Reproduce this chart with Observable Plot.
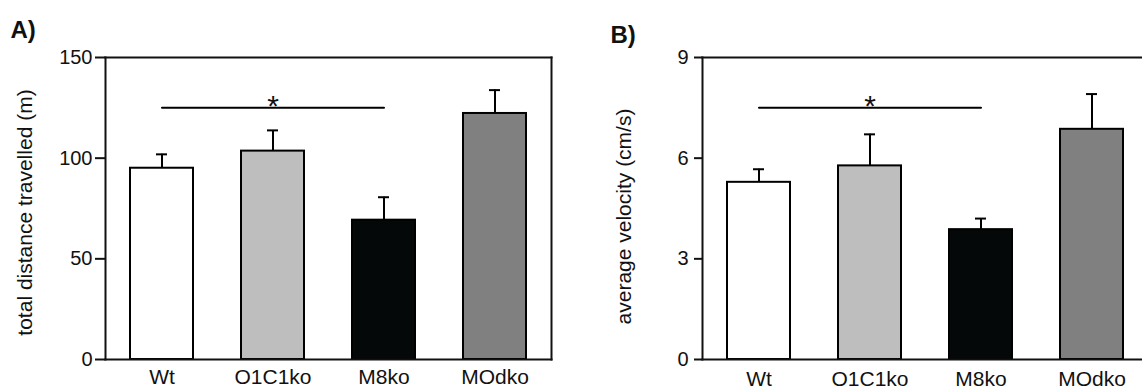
<!DOCTYPE html>
<html>
<head>
<meta charset="utf-8">
<script src="https://cdn.jsdelivr.net/npm/d3@7"></script>
<script src="https://cdn.jsdelivr.net/npm/@observablehq/plot@0.6"></script>
<style>
  html, body { margin: 0; padding: 0; background: #fff; }
  #wrap { width: 1142px; height: 390px; overflow: hidden; display: flex; background: #fff; }
  #wrap svg { flex: none; display: block; }
</style>
</head>
<body>
<div id="wrap"></div>
<script>
// ---- data ----
const categories = ["Wt", "O1C1ko", "M8ko", "MOdko"];
const barColors = ["#ffffff", "#bebebe", "#050808", "#7f807f"];

const distanceMean = [95.0, 103.5, 69.2, 122.2];
const distanceUpper = [101.9, 113.8, 80.6, 133.8];
const distanceTicks = [0, 50, 100, 150];
const distanceTitle = "total distance travelled (m)";

const velocityMean = [5.28, 5.77, 3.87, 6.86];
const velocityUpper = [5.67, 6.71, 4.20, 7.91];
const velocityTicks = [0, 3, 6, 9];
const velocityTitle = "average velocity (cm/s)";

const sigPair = ["Wt", "M8ko"];
const sigStarAt = "O1C1ko";
const distanceSig = 125;
const velocitySig = 7.5;

const panelLetters = ["A)", "B)"];

function panel(opts) {
  const data = categories.map((c, i) => ({cat: c, v: opts.mean[i], e: opts.upper[i], color: barColors[i]}));
  const sigData = sigPair.map(c => ({cat: c, y: opts.sig}));
  const frames = [
    Plot.frame({anchor: "left", strokeWidth: 2}),
    Plot.frame({anchor: "top", strokeWidth: 2}),
    Plot.frame({anchor: "bottom", strokeWidth: 2})
  ];
  if (opts.rightFrame) frames.push(Plot.frame({anchor: "right", strokeWidth: 2}));
  return Plot.plot({
    width: opts.width,
    height: 390,
    marginLeft: opts.marginLeft,
    marginRight: opts.marginRight,
    marginTop: 57,
    marginBottom: 31,
    style: {fontFamily: "'Liberation Sans', Arial, sans-serif", background: "#fff", color: "#111"},
    x: {domain: categories, paddingInner: 0.43, paddingOuter: 0.215, label: null},
    y: {domain: [0, opts.yMax], label: null},
    color: {type: "identity"},
    marks: [
      Plot.barY(data, {x: "cat", y: "v", fill: "color", stroke: "#000", strokeWidth: 2}),
      Plot.ruleX(data, {x: "cat", y1: "v", y2: "e", stroke: "#000", strokeWidth: 2}),
      Plot.tickY(data, {x: "cat", y: "e", stroke: "#000", strokeWidth: 2, insetLeft: 26, insetRight: 26}),
      ...frames,
      Plot.axisY(opts.ticks, {tickSize: opts.tickSize, tickPadding: opts.tickPadding, fontSize: 20, strokeWidth: 2, label: null}),
      Plot.axisX({tickSize: 0, tickPadding: opts.xPad, fontSize: 21, label: null}),
      Plot.line(sigData, {x: "cat", y: "y", stroke: "#000", strokeWidth: 2}),
      Plot.text([{cat: sigStarAt, y: opts.sig}], {x: "cat", y: "y", text: () => "*", fontSize: 30, lineAnchor: "bottom", dy: 8}),
      Plot.text([opts.title], {frameAnchor: "left", rotate: -90, dx: opts.titleDx, dy: opts.titleDy, fontSize: 21, textAnchor: "middle", lineAnchor: "middle"}),
      Plot.text([opts.letter], {frameAnchor: "top-left", dx: opts.letterDx, dy: opts.letterDy, fontSize: 24, fontWeight: "bold", textAnchor: "start", lineAnchor: "top"})
    ]
  });
}

const wrap = document.getElementById("wrap");
wrap.appendChild(panel({
  mean: distanceMean, upper: distanceUpper, ticks: distanceTicks, yMax: 150, sig: distanceSig,
  title: distanceTitle, letter: panelLetters[0],
  width: 560, marginLeft: 105, marginRight: 9, rightFrame: true,
  tickSize: 10, tickPadding: 3, xPad: 10,
  titleDx: -80, titleDy: 4, letterDx: -95, letterDy: -37
}));
wrap.appendChild(panel({
  mean: velocityMean, upper: velocityUpper, ticks: velocityTicks, yMax: 9, sig: velocitySig,
  title: velocityTitle, letter: panelLetters[1],
  width: 600, marginLeft: 142, marginRight: 12, rightFrame: false,
  tickSize: 8, tickPadding: 6, xPad: 12,
  titleDx: -78, titleDy: 8, letterDx: -92, letterDy: -32
}));
</script>
</body>
</html>
